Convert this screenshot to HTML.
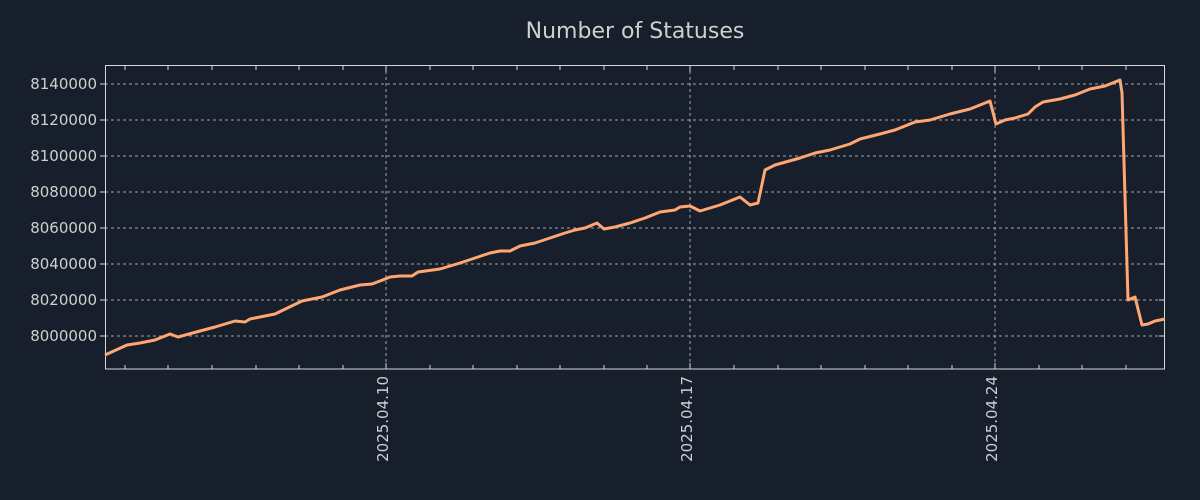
<!DOCTYPE html>
<html><head><meta charset="utf-8"><style>
html,body{margin:0;padding:0;background:#161f2b;}
svg{display:block}
text{font-family:"DejaVu Sans","Liberation Sans",sans-serif;fill:#d0d0d0}
</style></head><body>
<svg width="1200" height="500" viewBox="0 0 1200 500">
<rect width="1200" height="500" fill="#161f2b"/>
<text x="635" y="38" font-size="22" text-anchor="middle">Number of Statuses</text>
<g stroke="#c8c8c8" stroke-width="1" stroke-dasharray="3,3" opacity="0.8">
<line x1="105" x2="1164" y1="84" y2="84"/><line x1="105" x2="1164" y1="120" y2="120"/>
<line x1="105" x2="1164" y1="156" y2="156"/><line x1="105" x2="1164" y1="192" y2="192"/>
<line x1="105" x2="1164" y1="228" y2="228"/><line x1="105" x2="1164" y1="264" y2="264"/>
<line x1="105" x2="1164" y1="300" y2="300"/><line x1="105" x2="1164" y1="336" y2="336"/>
<line x1="386" x2="386" y1="65" y2="369"/><line x1="690" x2="690" y1="65" y2="369"/><line x1="995" x2="995" y1="65" y2="369"/>
</g>
<g stroke="#d8d8d8" stroke-width="1">
<rect x="105.5" y="65.5" width="1059" height="303.5" fill="none"/>
<path d="M125 369v-4M168 369v-4M212 369v-4M256 369v-4M299 369v-4M343 369v-4M386 369v-6M430 369v-4M473 369v-4M517 369v-4M560 369v-4M604 369v-4M647 369v-4M690 369v-6M734 369v-4M778 369v-4M821 369v-4M865 369v-4M908 369v-4M952 369v-4M995 369v-6M1039 369v-4M1082 369v-4M1126 369v-4
M125 66v4M168 66v4M212 66v4M256 66v4M299 66v4M343 66v4M386 66v6M430 66v4M473 66v4M517 66v4M560 66v4M604 66v4M647 66v4M690 66v6M734 66v4M778 66v4M821 66v4M865 66v4M908 66v4M952 66v4M995 66v6M1039 66v4M1082 66v4M1126 66v4
M105 84h-5M105 120h-5M105 156h-5M105 192h-5M105 228h-5M105 264h-5M105 300h-5M105 336h-5
M1164 84h-5M1164 120h-5M1164 156h-5M1164 192h-5M1164 228h-5M1164 264h-5M1164 300h-5M1164 336h-5"/>
</g>
<g font-size="15" text-anchor="end">
<text x="97" y="89">8140000</text><text x="97" y="125">8120000</text><text x="97" y="161">8100000</text>
<text x="97" y="197">8080000</text><text x="97" y="233">8060000</text><text x="97" y="269">8040000</text>
<text x="97" y="305">8020000</text><text x="97" y="341">8000000</text>
</g>
<g font-size="15" text-anchor="end">
<text transform="translate(388,376) rotate(-90)">2025.04.10</text>
<text transform="translate(692,376) rotate(-90)">2025.04.17</text>
<text transform="translate(997,376) rotate(-90)">2025.04.24</text>
</g>
<polyline fill="none" stroke="#ffa673" stroke-width="3" stroke-linejoin="round" points="105,355 127,345 140,343 155,340 170,334 178,337 200,331 215,327 235,321 245,322 250,319 275,314 302,301 322,297 340,290 360,285 372,284 380,281 390,277 400,276 412,276 418,272 440,269 460,263 475,258 490,253 500,251 510,251 520,246 535,243 550,238 565,233 575,230 585,228 597,223 604,229 615,227 630,223 645,218 660,212 675,210 680,207 690,206 700,211 720,205 740,197 750,205 758,203 765,170 775,165 800,158 815,153 830,150 850,144 860,139 880,134 895,130 915,122 930,120 950,114 970,109 990,101 996,124 1005,120 1015,118 1028,114 1035,107 1043,102 1060,99 1075,95 1090,89 1105,86 1120,80 1122,93 1128,300 1135,297 1142,325 1148,324 1155,321 1165,319"/>
</svg>
</body></html>
